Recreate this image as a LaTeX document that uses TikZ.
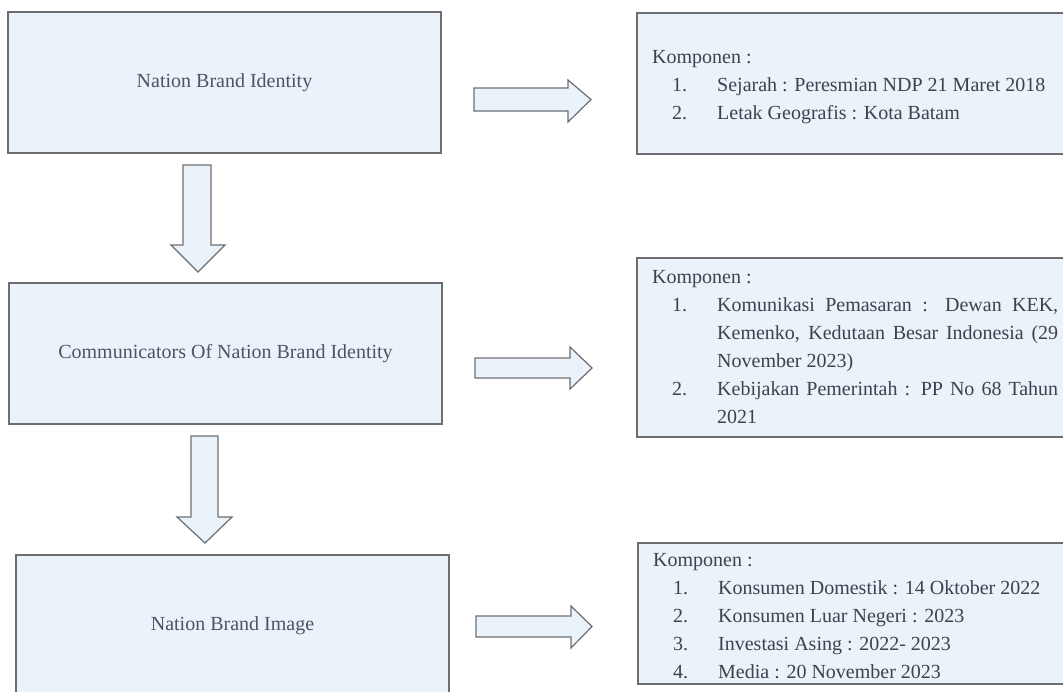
\documentclass[tikz,border=0pt]{standalone}
\usepackage{fontspec}
\setmainfont{Liberation Serif}
\definecolor{boxfill}{RGB}{234,242,250}
\definecolor{boxline}{RGB}{110,110,114}
\definecolor{txt}{RGB}{62,66,78}
\definecolor{ltxt}{RGB}{78,84,100}
\newcommand{\itm}[2]{\makebox[65pt][l]{\hspace*{20pt}#1}#2}
\tikzset{
  box/.style={draw=boxline, fill=boxfill, line width=1.3pt, inner sep=0pt},
  lbox/.style={box, minimum width=433pt, minimum height=141pt, text=ltxt,
    font=\fontsize{20}{24}\selectfont},
  rbox/.style={box, minimum width=440pt},
  comp/.style={anchor=north west, inner sep=0pt, align=left, text=txt,
    font=\fontsize{20}{28}\selectfont},
  barrow/.style={draw=boxline, fill=boxfill, line width=1.2pt, line join=miter}
}
\begin{document}
\begin{tikzpicture}[x=1pt,y=-1pt]
\useasboundingbox (0,0) rectangle (1063,691);
\clip (0,0) rectangle (1063,691);
% left boxes
\node[lbox] (nbi) at (224.5,82.5) {Nation Brand Identity};
\node[lbox] (cnbi) at (225.5,353.5) {Communicators Of Nation Brand Identity};
\node[lbox] (nbim) at (232.5,625.5) {Nation Brand Image};
% right boxes
\node[rbox, minimum height=141pt] (k1) at (857,83.5) {};
\node[rbox, minimum height=179pt] (k2) at (857,347.5) {};
\node[rbox, minimum height=141pt] (k3) at (858,613.5) {};
% texts of right boxes
\node[comp] (t1) at (652,50) {Komponen :\\
  \itm{1.}{Sejarah : Peresmian NDP 21 Maret 2018}\\
  \itm{2.}{Letak Geografis : Kota Batam}};
\node[comp] (t2) at (652,270.5) {Komponen :\\
  \itm{1.}{\makebox[341pt][s]{Komunikasi Pemasaran : Dewan KEK,}}\\
  \hspace*{65pt}\makebox[341pt][s]{Kemenko, Kedutaan Besar Indonesia (29}\\
  \hspace*{65pt}November 2023)\\
  \itm{2.}{\makebox[341pt][s]{Kebijakan Pemerintah : PP No 68 Tahun}}\\
  \hspace*{65pt}2021};
\node[comp] (t3) at (653,553.5) {Komponen :\\
  \itm{1.}{Konsumen Domestik : 14 Oktober 2022}\\
  \itm{2.}{Konsumen Luar Negeri : 2023}\\
  \itm{3.}{Investasi Asing : 2022- 2023}\\
  \itm{4.}{Media : 20 November 2023}};
% right block arrows (coordinates: body start, head start, tip)
\coordinate (r1) at (474,99.5);
\draw[barrow] (r1) ++(0,-11.5) -- ++(94,0) -- ++(0,-8) -- (591,99.5) -- (568,122) -- ++(0,-11) -- ++(-94,0) -- cycle;
\coordinate (r2) at (475,368);
\draw[barrow] (r2) ++(0,-10) -- ++(95,0) -- ++(0,-11) -- (592,368) -- (570,389) -- ++(0,-11) -- ++(-95,0) -- cycle;
\coordinate (r3) at (476,626.5);
\draw[barrow] (r3) ++(0,-10.5) -- ++(95,0) -- ++(0,-10) -- (592,626.5) -- (571,648) -- ++(0,-11) -- ++(-95,0) -- cycle;
% down block arrows
\coordinate (d1) at (197,165);
\draw[barrow] (d1) ++(-14,0) -- ++(28,0) -- ++(0,80) -- (225,245) -- (198,272) -- (171,245) -- (183,245) -- cycle;
\coordinate (d2) at (204.5,436);
\draw[barrow] (d2) ++(-13.5,0) -- ++(27,0) -- ++(0,81) -- (232,517) -- (205,543) -- (177,517) -- (191,517) -- cycle;
\end{tikzpicture}
\end{document}
